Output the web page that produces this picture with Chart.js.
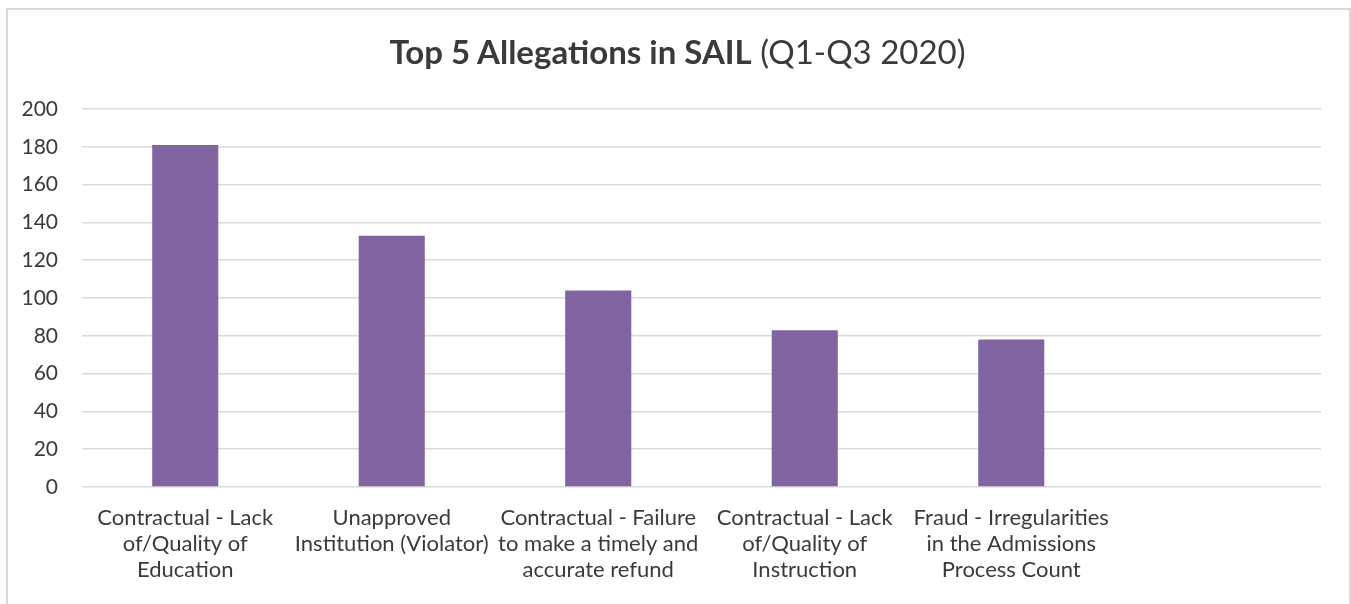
<!DOCTYPE html>
<html>
<head>
<meta charset="utf-8">
<script src="https://cdn.jsdelivr.net/npm/chart.js@4"></script>
<style>
  body { margin: 0; background: #fff; width: 1351px; height: 604px; overflow: hidden; position: relative; }
  #frame { position: absolute; left: 6px; top: 8px; width: 1341px; height: 640px; border: 2px solid #d9d9d9; pointer-events: none; }
  #title { position: absolute; left: 0; top: 31px; width: 1355px; text-align: center; font-family: Lato, sans-serif; font-size: 33px; color: #3a3a3a; }
  #wrap { position: absolute; left: 0; top: 0; width: 1351px; height: 604px; }
</style>
</head>
<body>
<div id="wrap"><canvas id="allegations"></canvas></div>
<div id="title"><b>Top 5 Allegations in SAIL</b> (Q1-Q3 2020)</div>
<div id="frame"></div>
<script>
const categories = [
  ["Contractual - Lack", "of/Quality of", "Education"],
  ["Unapproved", "Institution (Violator)"],
  ["Contractual - Failure", "to make a timely and", "accurate refund"],
  ["Contractual - Lack", "of/Quality of", "Instruction"],
  ["Fraud - Irregularities", "in the Admissions", "Process Count"],
  ""
];
const counts = [181, 133, 104, 83, 78, null];
const yTicks = [0, 20, 40, 60, 80, 100, 120, 140, 160, 180, 200];

document.addEventListener('DOMContentLoaded', function(event) {
  const ctx = document.getElementById("allegations").getContext("2d");
  const chart = new Chart(ctx, {
    type: "bar",
    data: {
      labels: categories,
      datasets: [{
        data: counts,
        backgroundColor: "#8064a2",
        barPercentage: 0.32,
        categoryPercentage: 1.0
      }]
    },
    options: {
      responsive: true,
      maintainAspectRatio: false,
      animation: false,
      layout: { padding: { top: 109, right: 30, left: 0, bottom: 0 } },
      plugins: {
        legend: { display: false },
        tooltip: { enabled: false }
      },
      scales: {
        x: {
          grid: { display: false },
          border: { display: false },
          ticks: {
            color: "#3a3a3a",
            font: { family: "Lato", size: 22, lineHeight: 1.18 },
            padding: 10,
            maxRotation: 0,
            minRotation: 0,
            autoSkip: false
          },
          afterFit: function(scale) { scale.height = 117; }
        },
        y: {
          min: 0,
          max: 200,
          afterBuildTicks: function(scale) { scale.ticks = yTicks.map(v => ({ value: v })); },
          grid: { color: "#d9d9d9", lineWidth: 1.5, drawTicks: false },
          border: { display: false },
          ticks: {
            color: "#3a3a3a",
            font: { family: "Lato", size: 21 },
            padding: 24
          },
          afterFit: function(scale) { scale.width = 82; }
        }
      }
    }
  });
});
</script>
</body>
</html>
